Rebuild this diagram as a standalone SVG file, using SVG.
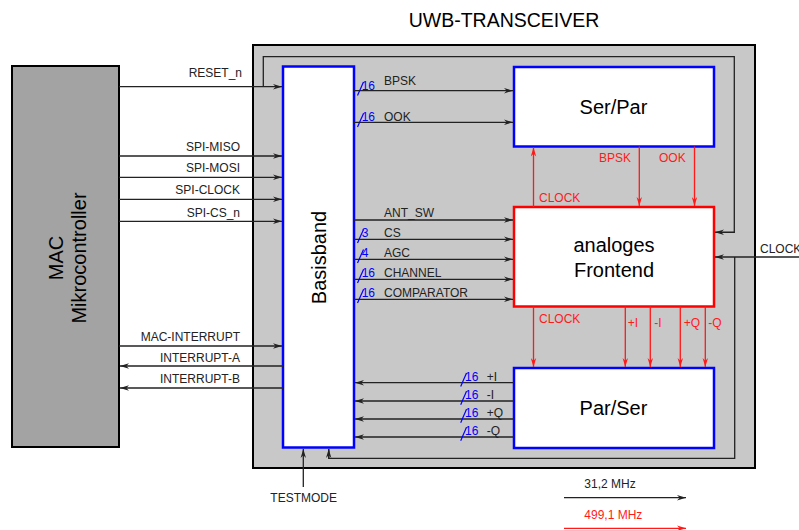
<svg xmlns="http://www.w3.org/2000/svg" width="799" height="530" viewBox="0 0 799 530">
<defs>
<marker id="ab" markerUnits="userSpaceOnUse" markerWidth="9" markerHeight="6" viewBox="0 0 10 6" refX="10" refY="3" orient="auto"><path d="M0,0 L10,3 L0,6 L3,3 Z" fill="#222"/></marker>
<marker id="ar" markerUnits="userSpaceOnUse" markerWidth="9" markerHeight="6" viewBox="0 0 10 6" refX="10" refY="3" orient="auto"><path d="M0,0 L10,3 L0,6 L3,3 Z" fill="#ff1a1a"/></marker>
</defs>
<style>
text{font-family:"Liberation Sans",Arial,sans-serif;}
.big{font-size:20px;fill:#000;}
.lbl{font-size:12px;fill:#222;}
.bus{font-size:12px;fill:#0000ff;}
.rl{font-size:12px;fill:#ff1a1a;}
.c{fill:none;stroke:#222;stroke-width:1.3;}
.ca{fill:none;stroke:#222;stroke-width:1.3;marker-end:url(#ab);}
.ra{fill:none;stroke:#ff1a1a;stroke-width:1.3;marker-end:url(#ar);}
.sl{stroke:#0000ff;stroke-width:1.2;}
.bb{fill:#fff;stroke:#0000ff;stroke-width:2.5;}
.rb{fill:#fff;stroke:#ff0000;stroke-width:2.5;}
</style>
<rect width="799" height="530" fill="#fff"/>

<g id="transceiver">
<rect x="253" y="45" width="502" height="423" fill="#c8c8c8" stroke="#000" stroke-width="2"/>
<text x="504" y="27" text-anchor="middle" style="font-size:19.5px">UWB-TRANSCEIVER</text>
</g>

<g id="mac">
<rect x="12" y="66" width="107" height="381" fill="#a3a3a3" stroke="#000" stroke-width="2"/>
<text class="big" transform="translate(62.5,258) rotate(-90)" text-anchor="middle">MAC</text>
<text class="big" transform="translate(86,258) rotate(-90)" text-anchor="middle">Mikrocontroller</text>
</g>

<g id="basisband">
<rect class="bb" x="283" y="66.5" width="71" height="381"/>
<text class="big" transform="translate(326,257.5) rotate(-90)" text-anchor="middle">Basisband</text>
</g>

<g id="serpar">
<rect class="bb" x="514" y="67" width="200" height="79.5"/>
<text class="big" x="613.5" y="114" text-anchor="middle">Ser/Par</text>
</g>

<g id="frontend">
<rect class="rb" x="514" y="207" width="200" height="99.5"/>
<text class="big" x="614" y="251.5" text-anchor="middle">analoges</text>
<text class="big" x="614" y="276.5" text-anchor="middle">Frontend</text>
</g>

<g id="parser">
<rect class="bb" x="514" y="368" width="200" height="80"/>
<text class="big" x="613.5" y="415" text-anchor="middle">Par/Ser</text>
</g>

<g id="connectors">
<!-- MAC to Basisband -->
<path class="ca" d="M119,86.7 H282"/>
<path class="c" d="M263.3,86.7 V56.7 H734.3 V232.3 H715"/>
<path class="ca" d="M734.3,232.3 H715"/>
<path class="ca" d="M119,156 H282"/>
<path class="ca" d="M119,177.3 H282"/>
<path class="ca" d="M119,199.3 H282"/>
<path class="ca" d="M119,221.3 H282"/>
<path class="ca" d="M119,346 H282"/>
<path class="ca" d="M283,366 H120"/>
<path class="ca" d="M283,388 H120"/>
<text class="lbl" x="242" y="76.7" text-anchor="end">RESET_n</text>
<text class="lbl" x="240" y="150.7" text-anchor="end">SPI-MISO</text>
<text class="lbl" x="240" y="172.3" text-anchor="end">SPI-MOSI</text>
<text class="lbl" x="240" y="194.3" text-anchor="end">SPI-CLOCK</text>
<text class="lbl" x="240" y="216.7" text-anchor="end">SPI-CS_n</text>
<text class="lbl" x="240" y="340.7" text-anchor="end">MAC-INTERRUPT</text>
<text class="lbl" x="240" y="361.7" text-anchor="end">INTERRUPT-A</text>
<text class="lbl" x="240" y="383.3" text-anchor="end">INTERRUPT-B</text>

<!-- Basisband to Ser/Par -->
<path class="ca" d="M354,90.7 H513"/>
<path class="ca" d="M354,122.3 H513"/>
<line class="sl" x1="357.5" y1="95.5" x2="363.5" y2="82"/>
<line class="sl" x1="357.5" y1="127" x2="363.5" y2="113.5"/>
<text class="bus" x="361.7" y="90">16</text>
<text class="bus" x="361.7" y="121">16</text>
<text class="lbl" x="384" y="85.3">BPSK</text>
<text class="lbl" x="384" y="120.5">OOK</text>

<!-- Basisband to Frontend -->
<path class="ca" d="M354,220 H513"/>
<path class="ca" d="M354,239.3 H513"/>
<path class="ca" d="M354,259.3 H513"/>
<path class="ca" d="M354,279.3 H513"/>
<path class="ca" d="M354,299.3 H513"/>
<line class="sl" x1="357.5" y1="243" x2="363.5" y2="229.5"/>
<line class="sl" x1="357.5" y1="263" x2="363.5" y2="249.5"/>
<line class="sl" x1="357.5" y1="283" x2="363.5" y2="269.5"/>
<line class="sl" x1="357.5" y1="303" x2="363.5" y2="289.5"/>
<text class="bus" x="361.7" y="237">3</text>
<text class="bus" x="361.7" y="257">4</text>
<text class="bus" x="361.7" y="277">16</text>
<text class="bus" x="361.7" y="297">16</text>
<text class="lbl" x="384" y="217.3">ANT_SW</text>
<text class="lbl" x="384" y="236.7">CS</text>
<text class="lbl" x="384" y="256.7">AGC</text>
<text class="lbl" x="384" y="276.7">CHANNEL</text>
<text class="lbl" x="384" y="296.7">COMPARATOR</text>

<!-- Par/Ser to Basisband -->
<path class="ca" d="M514,382.7 H355"/>
<path class="ca" d="M514,401 H355"/>
<path class="ca" d="M514,419 H355"/>
<path class="ca" d="M514,437 H355"/>
<line class="sl" x1="460.7" y1="386.5" x2="466.5" y2="373"/>
<line class="sl" x1="460.7" y1="404.8" x2="466.5" y2="391.3"/>
<line class="sl" x1="460.7" y1="422.8" x2="466.5" y2="409.3"/>
<line class="sl" x1="460.7" y1="440.8" x2="466.5" y2="427.3"/>
<text class="bus" x="465" y="380.7">16</text>
<text class="bus" x="465" y="398.8">16</text>
<text class="bus" x="465" y="416.8">16</text>
<text class="bus" x="465" y="434.8">16</text>
<text class="lbl" x="486.7" y="380.7">+I</text>
<text class="lbl" x="486.7" y="398.8">-I</text>
<text class="lbl" x="486.7" y="416.8">+Q</text>
<text class="lbl" x="486.7" y="434.8">-Q</text>

<!-- TESTMODE -->
<path class="ca" d="M303.3,487 V449"/>
<text class="lbl" x="303.7" y="502" text-anchor="middle">TESTMODE</text>

<!-- external CLOCK -->
<path class="ca" d="M799,257 H715"/>
<path class="c" d="M734.7,257 V458.3 H328.7 V449"/>
<path class="ca" d="M328.7,458.3 V449"/>
<text class="lbl" x="760" y="252.5">CLOCK</text>

<!-- red connections -->
<path class="ra" d="M533.5,207 V147.5"/>
<path class="ra" d="M639.3,146.5 V206"/>
<path class="ra" d="M694.5,146.5 V206"/>
<path class="ra" d="M533.5,306.5 V367"/>
<path class="ra" d="M625.3,306.5 V367"/>
<path class="ra" d="M650.3,306.5 V367"/>
<path class="ra" d="M680.3,306.5 V367"/>
<path class="ra" d="M705.3,306.5 V367"/>
<text class="rl" x="631" y="161.7" text-anchor="end">BPSK</text>
<text class="rl" x="659" y="161.7">OOK</text>
<text class="rl" x="539" y="201.7">CLOCK</text>
<text class="rl" x="539" y="322.7">CLOCK</text>
<text class="rl" x="627.7" y="327.3">+I</text>
<text class="rl" x="654.3" y="327.3">-I</text>
<text class="rl" x="683.7" y="327.3">+Q</text>
<text class="rl" x="708.3" y="327.3">-Q</text>
</g>

<g id="legend">
<text class="lbl" x="584.3" y="488">31,2 MHz</text>
<path class="ca" d="M564,497.7 H686"/>
<text class="rl" x="584.3" y="518.5">499,1 MHz</text>
<path class="ra" d="M564,528.3 H686"/>
</g>
</svg>
